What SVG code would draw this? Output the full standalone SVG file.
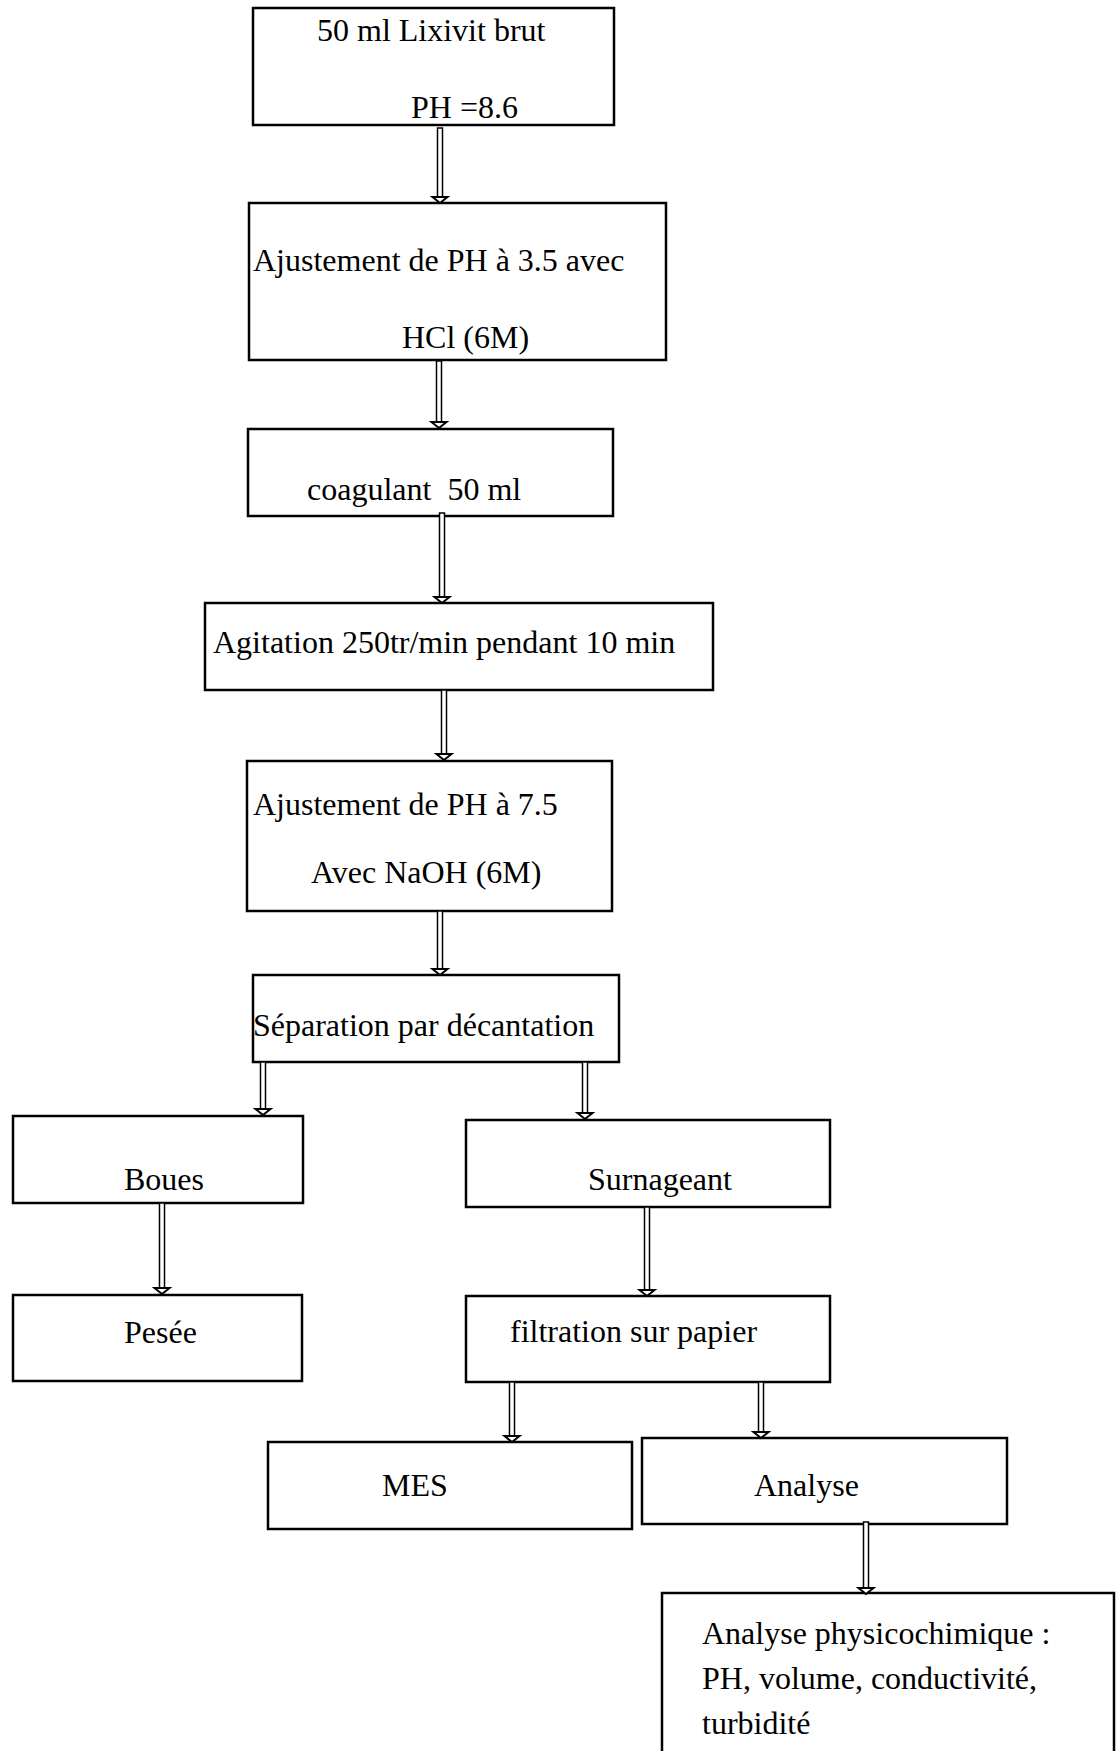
<svg xmlns="http://www.w3.org/2000/svg" width="1116" height="1751" viewBox="0 0 1116 1751">
<style>
.box{fill:#fff;stroke:#000;stroke-width:2.5}
.t{font-family:"Liberation Serif","Times New Roman",serif;font-size:32px;fill:#000;white-space:pre}
.shaft{fill:#fff;stroke:#000;stroke-width:1.5}
.head{fill:#fff;stroke:#000;stroke-width:2;stroke-linejoin:miter}
</style>
<rect width="1116" height="1751" fill="#fff"/>
<g id="n1"><rect class="box" x="253" y="8" width="361" height="117"/><text class="t" x="317" y="41">50 ml Lixivit brut</text><text class="t" x="411" y="118">PH =8.6</text></g>
<g id="n2"><rect class="box" x="249" y="203" width="417" height="157"/><text class="t" x="253" y="271">Ajustement de PH à 3.5 avec</text><text class="t" x="402" y="348">HCl (6M)</text></g>
<g id="n3"><rect class="box" x="248" y="429" width="365" height="87"/><text class="t" x="307" y="500">coagulant  50 ml</text></g>
<g id="n4"><rect class="box" x="205" y="603" width="508" height="87"/><text class="t" x="213" y="653">Agitation 250tr/min pendant 10 min</text></g>
<g id="n5"><rect class="box" x="247" y="761" width="365" height="150"/><text class="t" x="253" y="815">Ajustement de PH à 7.5</text><text class="t" x="311" y="883">Avec NaOH (6M)</text></g>
<g id="n6"><rect class="box" x="253" y="975" width="366" height="87"/><text class="t" x="253" y="1036">Séparation par décantation</text></g>
<g id="n7"><rect class="box" x="13" y="1116" width="290" height="87"/><text class="t" x="124" y="1190">Boues</text></g>
<g id="n8"><rect class="box" x="466" y="1120" width="364" height="87"/><text class="t" x="588" y="1190">Surnageant</text></g>
<g id="n9"><rect class="box" x="13" y="1295" width="289" height="86"/><text class="t" x="124" y="1343">Pesée</text></g>
<g id="n10"><rect class="box" x="466" y="1296" width="364" height="86"/><text class="t" x="510" y="1342">filtration sur papier</text></g>
<g id="n11"><rect class="box" x="268" y="1442" width="364" height="87"/><text class="t" x="382" y="1496">MES</text></g>
<g id="n12"><rect class="box" x="642" y="1438" width="365" height="86"/><text class="t" x="754" y="1496">Analyse</text></g>
<g id="n13"><rect class="box" x="662" y="1593" width="452" height="200"/><text class="t" x="702" y="1644">Analyse physicochimique :</text><text class="t" x="702" y="1689">PH, volume, conductivité,</text><text class="t" x="702" y="1734">turbidité</text></g>
<g id="connectors">
<rect class="shaft" x="437.5" y="128" width="5" height="69"/><polygon class="head" points="432.5,197 447.5,197 440,203"/>
<rect class="shaft" x="436.5" y="361" width="5" height="61"/><polygon class="head" points="431.5,422 446.5,422 439,428"/>
<rect class="shaft" x="439.5" y="513" width="5" height="84"/><polygon class="head" points="434.5,597 449.5,597 442,603"/>
<rect class="shaft" x="441.5" y="690" width="5" height="64"/><polygon class="head" points="436.5,754 451.5,754 444,760"/>
<rect class="shaft" x="437.5" y="911" width="5" height="58"/><polygon class="head" points="432.5,969 447.5,969 440,975"/>
<rect class="shaft" x="260.5" y="1062" width="5" height="47"/><polygon class="head" points="255.5,1109 270.5,1109 263,1115"/>
<rect class="shaft" x="582.5" y="1062" width="5" height="51"/><polygon class="head" points="577.5,1113 592.5,1113 585,1119"/>
<rect class="shaft" x="159.5" y="1203" width="5" height="85"/><polygon class="head" points="154.5,1288 169.5,1288 162,1294"/>
<rect class="shaft" x="644.5" y="1207" width="5" height="83"/><polygon class="head" points="639.5,1290 654.5,1290 647,1296"/>
<rect class="shaft" x="509.5" y="1382" width="5" height="54"/><polygon class="head" points="504.5,1436 519.5,1436 512,1442"/>
<rect class="shaft" x="758.5" y="1382" width="5" height="50"/><polygon class="head" points="753.5,1432 768.5,1432 761,1438"/>
<rect class="shaft" x="863.5" y="1522" width="5" height="66"/><polygon class="head" points="858.5,1588 873.5,1588 866,1594"/>
</g>
</svg>
